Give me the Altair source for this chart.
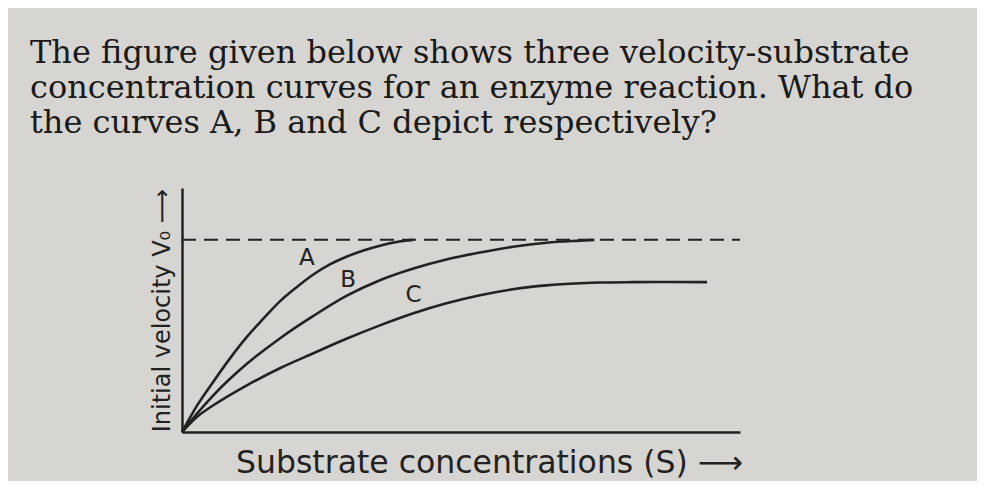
import altair as alt
import pandas as pd

# Readings from the figure: substrate concentration S vs initial velocity V0 (Vmax = 100)
s_a = [0, 2.7, 5.7, 8.7, 11.8, 14.8, 17.8, 20.9, 23.9, 26.9, 29.9, 33.0, 36.0, 39.0, 42.0]
v_a = [0, 13.6, 26.2, 38.2, 49.5, 59.0, 68.0, 75.5, 82.0, 87.2, 91.2, 94.5, 97.0, 98.9, 100.0]
s_b = [0, 2.7, 5.7, 11.8, 17.8, 23.9, 29.9, 36.0, 42.1, 48.1, 54.2, 60.2, 66.3, 72.4, 75.0]
v_b = [0, 9.5, 19.1, 35.5, 48.7, 60.4, 70.8, 79.0, 85.1, 89.8, 93.4, 96.4, 98.5, 99.6, 100.0]
s_c = [0, 2.7, 5.7, 11.8, 17.8, 23.9, 29.9, 36.0, 42.1, 48.1, 54.2, 60.2, 66.3, 72.4, 76.0, 82.0, 89.0, 95.5]
v_c = [0, 7.8, 13.9, 24.3, 33.2, 41.0, 48.5, 55.5, 61.8, 67.0, 71.2, 74.3, 76.3, 77.4, 77.8, 78.0, 78.1, 78.0]

vmax_s = [0.0, 101.5]
vmax_v = [100.0, 100.0]

label_names = ["A", "B", "C"]
label_s = [22.7, 30.2, 42.1]
label_v = [90.5, 79.2, 71.4]

question = [
    "The figure given below shows three velocity-substrate",
    "concentration curves for an enzyme reaction. What do",
    "the curves A, B and C depict respectively?",
]
x_title = "Substrate concentrations (S) \u27f6"
y_title = "Initial velocity V\u2080 \u27f6"

rows = []
for name, ss, vv in (("A", s_a, v_a), ("B", s_b, v_b), ("C", s_c, v_c)):
    for i, (s, v) in enumerate(zip(ss, vv)):
        rows.append({"curve": name, "i": i, "S": s, "V": v})
curves = pd.DataFrame(rows)
vmax = pd.DataFrame({"S": vmax_s, "V": vmax_v})
labels = pd.DataFrame({"name": label_names, "S": label_s, "V": label_v})

INK = "#222222"
BG = "#d6d5d2"

xscale = alt.Scale(domain=[0, 101.5], nice=False, zero=True)
yscale = alt.Scale(domain=[0, 127], nice=False, zero=True)

xaxis = alt.Axis(
    title=x_title, labels=False, ticks=False, grid=False,
    domainColor=INK, domainWidth=2.5,
    titleFont="DejaVu Sans", titleFontSize=31.5, titleFontWeight="normal",
    titleColor=INK, titleX=307, titleY=40, titleBaseline="alphabetic",
    titleAlign="center",
)
yaxis = alt.Axis(
    title=y_title, labels=False, ticks=False, grid=False,
    domainColor=INK, domainWidth=2.5,
    titleFont="DejaVu Sans", titleFontSize=24, titleFontWeight="normal",
    titleColor=INK, titlePadding=8,
)

lines = alt.Chart(curves).mark_line(
    color=INK, strokeWidth=2.6, interpolate="monotone"
).encode(
    x=alt.X("S:Q", scale=xscale, axis=xaxis),
    y=alt.Y("V:Q", scale=yscale, axis=yaxis),
    detail="curve:N",
    order="i:Q",
)

dashed = alt.Chart(vmax).mark_line(color=INK, strokeWidth=2, strokeDash=[14, 8]).encode(
    x=alt.X("S:Q", scale=xscale),
    y=alt.Y("V:Q", scale=yscale),
)

text = alt.Chart(labels).mark_text(
    font="DejaVu Sans", fontSize=23, color=INK, align="center", baseline="middle"
).encode(
    x=alt.X("S:Q", scale=xscale),
    y=alt.Y("V:Q", scale=yscale),
    text="name:N",
)

chart = (
    alt.layer(dashed, lines, text)
    .properties(
        width=558,
        height=244,
        autosize=alt.AutoSizeParams(type="none"),
        padding={"left": 174, "top": 180, "right": 237, "bottom": 49},
        background=BG,
        title=alt.TitleParams(
            text=question, anchor="start", frame="group",
            font="DejaVu Serif", fontSize=32, fontWeight="normal",
            color="#1a1a1a", lineHeight=35, offset=48, dx=-152,
        ),
    )
    .configure_view(stroke=None)
)

chart.save("out.html", embed_options={"renderer": "svg", "actions": False})
